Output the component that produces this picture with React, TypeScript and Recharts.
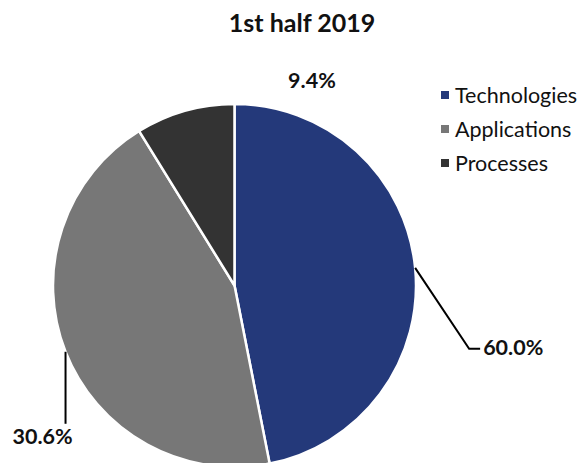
import React from "react";
import { PieChart, Pie, Cell, Legend } from "recharts";

const categories = ["Technologies", "Applications", "Processes"];
const sliceValues = [46.9, 44.3, 8.8];
const labelTexts = ["60.0%", "30.6%", "9.4%"];
const colors = ["#24397a", "#777777", "#333333"];

const data = categories.map((name, i) => ({ name, value: sliceValues[i] }));

const FONT = "Lato, 'Open Sans', sans-serif";
const RAD = Math.PI / 180;

const renderLabel = (props: any) => {
  const { cx, cy, midAngle, outerRadius, index } = props;
  const sx = cx + outerRadius * Math.cos(-midAngle * RAD);
  const sy = cy + outerRadius * Math.sin(-midAngle * RAD);
  const text = labelTexts[index];
  const style = { fontFamily: FONT, fontWeight: 700, fontSize: 21.5, fill: "#111" };
  if (index === 0) {
    const ex = sx + 54;
    const ey = sy + 81;
    return (
      <g>
        <polyline points={`${sx},${sy} ${ex},${ey} ${ex + 11},${ey}`} fill="none" stroke="#000" strokeWidth={2} />
        <text x={ex + 14} y={ey - 2} dominantBaseline="central" textAnchor="start" style={style}>{text}</text>
      </g>
    );
  }
  if (index === 1) {
    const ey = sy + 72;
    return (
      <g>
        <line x1={sx} y1={sy} x2={sx} y2={ey} stroke="#000" strokeWidth={2} />
        <text x={sx - 23} y={ey + 12} dominantBaseline="central" textAnchor="middle" style={style}>{text}</text>
      </g>
    );
  }
  return (
    <text x={sx + 127} y={sy - 31} dominantBaseline="central" textAnchor="middle" style={style}>{text}</text>
  );
};

const renderLegend = () => (
  <div style={{ fontFamily: FONT }}>
    {categories.map((c, i) => (
      <div key={c} style={{ display: "flex", alignItems: "center", height: 34 }}>
        <span style={{ display: "inline-block", width: 8, height: 8, background: colors[i], marginRight: 6 }} />
        <span style={{ fontSize: 21.5, color: "#111" }}>{c}</span>
      </div>
    ))}
  </div>
);

export default function App() {
  return (
    <div style={{ position: "absolute", left: 0, top: 0, width: 584, height: 463, background: "#fff" }}>
      <PieChart width={584} height={463} margin={{ top: 0, right: 0, bottom: 0, left: 0 }}>
        <text x={302} y={22} textAnchor="middle" dominantBaseline="central" style={{ fontFamily: FONT, fontWeight: 700, fontSize: 25, fill: "#111" }}>
          1st half 2019
        </text>
        <Pie
          data={data}
          dataKey="value"
          nameKey="name"
          cx={234.5}
          cy={285.5}
          outerRadius={181.5}
          startAngle={90}
          endAngle={-270}
          stroke="#ffffff"
          strokeWidth={2.5}
          label={renderLabel}
          labelLine={false}
          isAnimationActive={false}
        >
          {data.map((d, i) => (
            <Cell key={d.name} fill={colors[i]} />
          ))}
        </Pie>
        <Legend
          content={renderLegend}
          layout="vertical"
          verticalAlign="top"
          align="right"
          wrapperStyle={{ position: "absolute", left: 441, top: 78, width: 143 }}
        />
      </PieChart>
    </div>
  );
}
